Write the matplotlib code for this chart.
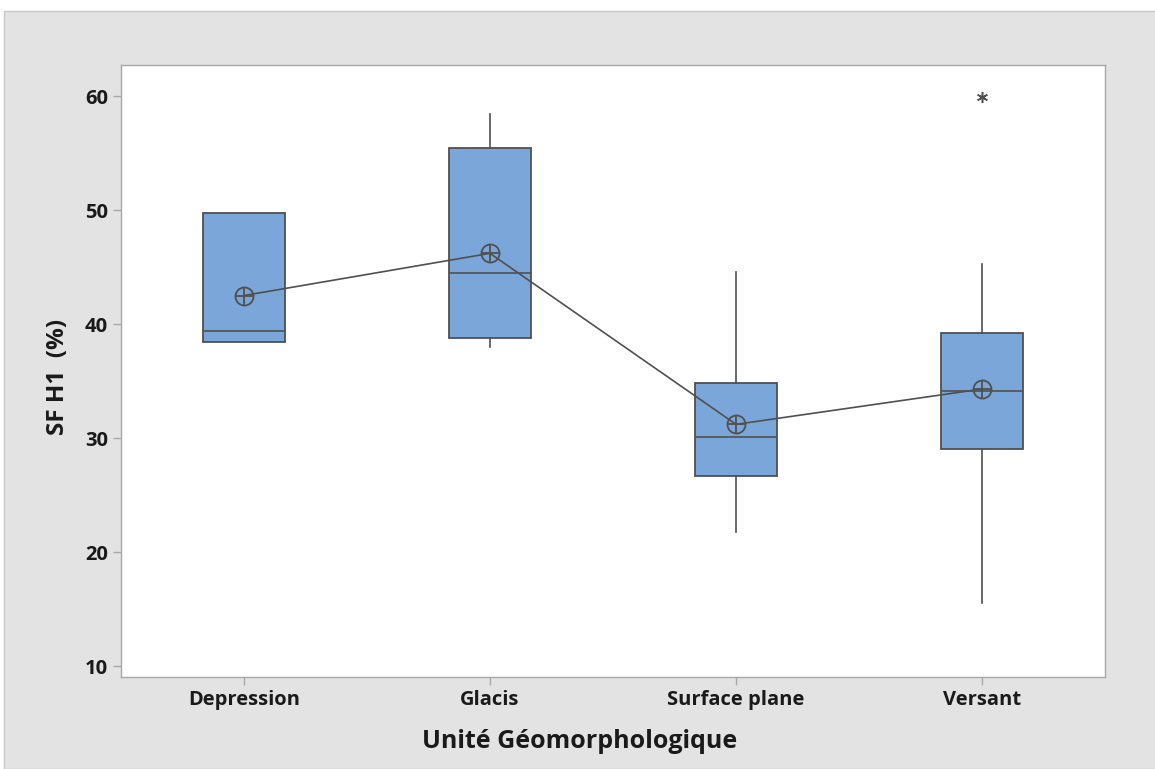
import numpy as np
import matplotlib.pyplot as plt
from matplotlib.patches import Rectangle

# Données SF H1 (%) par unité géomorphologique
categories = ['Depression', 'Glacis', 'Surface plane', 'Versant']
whisker_low = [38.4, 38.0, 21.8, 15.5]
q1 = [38.4, 38.8, 26.7, 29.0]
medians = [39.4, 44.5, 30.1, 34.1]
q3 = [49.7, 55.4, 34.8, 39.2]
whisker_high = [49.7, 58.4, 44.6, 45.3]
means = [42.5, 46.2, 31.2, 34.3]
outliers = [[], [], [], [59.9]]

plt.rcParams['font.family'] = ['Open Sans', 'DejaVu Sans']

fig = plt.figure(figsize=(11.55, 7.69), dpi=100)
fig.patch.set_facecolor('white')
fig.add_artist(Rectangle((4 / 1155, 0), 1, 1 - 11 / 769, transform=fig.transFigure,
                         facecolor='#e3e3e3', edgecolor='#c8c8c8', linewidth=1, zorder=-10))

ax = fig.add_axes([121 / 1155, 1 - 677 / 769, 984 / 1155, 612 / 769])
ax.set_facecolor('white')

stats = []
for i, cat in enumerate(categories):
    stats.append(dict(label=cat, whislo=whisker_low[i], q1=q1[i], med=medians[i],
                      q3=q3[i], whishi=whisker_high[i], fliers=outliers[i]))

pos = np.arange(1, len(categories) + 1)
edge = '#505050'
ax.bxp(stats, positions=pos, widths=0.333, patch_artist=True, showcaps=False,
       boxprops=dict(facecolor='#7ba6d9', edgecolor=edge, linewidth=1.3),
       medianprops=dict(color=edge, linewidth=1.2),
       whiskerprops=dict(color=edge, linewidth=1.2),
       flierprops=dict(marker=(6, 2, 0), markersize=8, markeredgecolor=edge,
                       markeredgewidth=1.1, linestyle='none'))

# moyennes reliées
ax.plot(pos, means, color=edge, linewidth=1.2, zorder=4)
ax.plot(pos, means, 'o', markersize=13, markerfacecolor='none', markeredgecolor=edge,
        markeredgewidth=1.3, zorder=5)
ax.plot(pos, means, '+', markersize=13, markeredgecolor=edge, markeredgewidth=1.3, zorder=5)

ax.set_xlim(0.5, 4.5)
ax.set_ylim(9.04, 62.72)
ax.set_yticks([10, 20, 30, 40, 50, 60])
ax.set_xticks(pos)
ax.set_xticklabels(categories)

for s in ax.spines.values():
    s.set_color('#a8a8a8')
    s.set_linewidth(1)
ax.tick_params(axis='both', colors='#a8a8a8', length=6, width=1, labelcolor='#1a1a1a',
               labelsize=14.5)
for lab in ax.get_xticklabels() + ax.get_yticklabels():
    lab.set_fontweight('bold')

ax.set_xlabel('Unité Géomorphologique', fontsize=18, fontweight='bold', color='#1a1a1a')
ax.xaxis.set_label_coords(0.466, -0.085)
ax.set_ylabel('SF H1  (%)', fontsize=17.5, fontweight='bold', color='#1a1a1a')
ax.yaxis.set_label_coords(-0.052, 0.49)

fig.savefig('out.png', dpi=100)
